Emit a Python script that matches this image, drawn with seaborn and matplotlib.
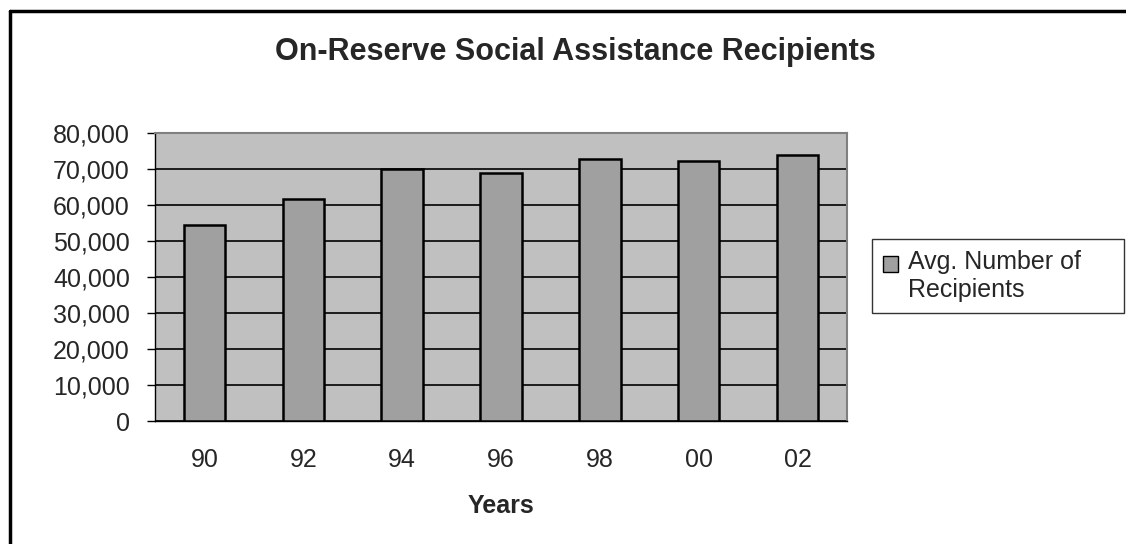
import numpy as np
import pandas as pd
import matplotlib
matplotlib.use("Agg")
import matplotlib.pyplot as plt
from matplotlib.ticker import FuncFormatter, FixedLocator
import seaborn as sns

years = ["90", "92", "94", "96", "98", "00", "02"]
recipients = [54500, 61700, 70100, 68900, 72900, 72300, 73900]
series_name = "Avg. Number of\nRecipients"

df = pd.DataFrame({"Years": years, "Recipients": recipients})

sns.set_style("white")
plt.rcParams["font.family"] = ["Liberation Sans", "DejaVu Sans"]

W, H = 1126, 544
fig = plt.figure(figsize=(W / 100, H / 100), dpi=100)

# chart frame (left and top edge visible)
fig.add_artist(plt.Line2D([10 / W, 10 / W], [0, 1 - 11 / H], color="black", lw=2.5))
fig.add_artist(plt.Line2D([10 / W, 1], [1 - 11 / H, 1 - 11 / H], color="black", lw=2.5))

ax = fig.add_axes([155 / W, (H - 421.3) / H, 692 / W, 288 / H])
ax.set_facecolor("#C0C0C0")

sns.barplot(data=df, x="Years", y="Recipients", order=years, color="#A0A0A0",
            edgecolor="black", linewidth=1.8, width=0.42, saturation=1, ax=ax,
            label=series_name, zorder=3)

ax.set_ylim(0, 80000)
ax.set_xlim(-0.5, 6.5)
ax.set_yticks(np.arange(0, 80001, 10000))
ax.yaxis.set_major_formatter(FuncFormatter(lambda v, p: f"{int(v):,}"))
ax.grid(axis="y", color="black", lw=1.2, zorder=1)
ax.set_axisbelow(True)

ax.tick_params(axis="x", which="major", length=0, pad=19, labelsize=18)
ax.xaxis.set_minor_locator(FixedLocator(np.arange(-0.5, 7, 1)))
ax.tick_params(axis="x", which="minor", length=6, width=1, direction="out", color="black")
ax.tick_params(axis="y", length=6, width=1, direction="out", color="black", labelsize=18, pad=12,
               left=True)

for s in ["top", "right"]:
    ax.spines[s].set_color("#808080")
    ax.spines[s].set_linewidth(1.5)
for s in ["left", "bottom"]:
    ax.spines[s].set_color("black")
    ax.spines[s].set_linewidth(1)

ax.set_ylabel("")
ax.set_xlabel("Years", fontsize=18, fontweight="bold", labelpad=16)

fig.text(575 / W, 1 - 52 / H, "On-Reserve Social Assistance Recipients", ha="center", va="center",
         fontsize=22, fontweight="bold")

leg = ax.legend(loc="center left", mode="expand",
                bbox_to_anchor=(872 / W, (H - 313) / H, (1124 - 872) / W, 74 / H),
                bbox_transform=fig.transFigure, borderaxespad=0,
                frameon=True, fancybox=False, fontsize=18, handlelength=0.6, handleheight=0.6,
                handletextpad=0.4, borderpad=0.45, labelspacing=0.1)
leg.get_frame().set_edgecolor("black")
leg.get_frame().set_linewidth(1)
for h in leg.legend_handles:
    h.set_linewidth(1)
    # line the square up with the first text line
    h.set_y(h.get_y() + 9)

fig.savefig("out.png", dpi=100, facecolor="white")
